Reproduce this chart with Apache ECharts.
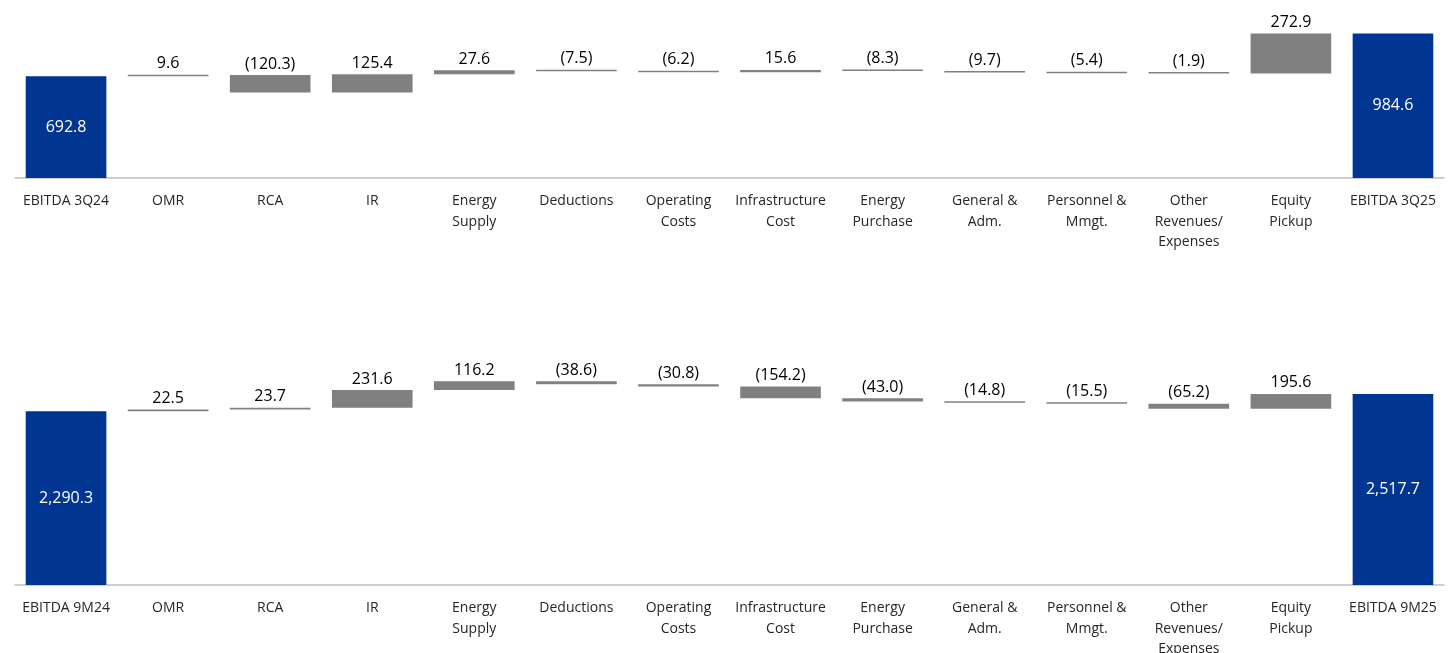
<!DOCTYPE html>
<html>
<head>
<meta charset="utf-8">
<title>EBITDA bridge</title>
<script src="https://cdn.jsdelivr.net/npm/echarts@6/dist/echarts.min.js"></script>
<style>
  html, body { margin: 0; padding: 0; background: #ffffff; }
  #chart { width: 1452px; height: 653px; }
</style>
</head>
<body>
<div id="chart"></div>
<script>
// Category labels (shared by both bridges, only the end columns differ)
const stepCategories = [
  'OMR', 'RCA', 'IR', 'Energy\nSupply', 'Deductions', 'Operating\nCosts',
  'Infrastructure\nCost', 'Energy\nPurchase', 'General &\nAdm.',
  'Personnel &\nMmgt.', 'Other\nRevenues/\nExpenses', 'Equity\nPickup'
];
const quarterEnds = ['EBITDA 3Q24', 'EBITDA 3Q25'];
const ytdEnds = ['EBITDA 9M24', 'EBITDA 9M25'];

// Quarter bridge (R$ million)
const quarterStart = 692.8;
const quarterSteps = [9.6, -120.3, 125.4, 27.6, -7.5, -6.2, 15.6, -8.3, -9.7, -5.4, -1.9, 272.9];
const quarterEnd = 984.6;

// Nine-month bridge (R$ million)
const ytdStart = 2290.3;
const ytdSteps = [22.5, 23.7, 231.6, 116.2, -38.6, -30.8, -154.2, -43.0, -14.8, -15.5, -65.2, 195.6];
const ytdEnd = 2517.7;

const BLUE = '#003591';
const GREY = '#808080';
const FONT = '"Open Sans", "Noto Sans", sans-serif';

function fmt(v) {
  const s = Math.abs(v).toLocaleString('en-US', { minimumFractionDigits: 1, maximumFractionDigits: 1 });
  return v < 0 ? '(' + s + ')' : s;
}

// Builds the invisible base and the visible bars for one bridge
function bridge(start, steps, end) {
  const base = [0];
  const bars = [{ value: start, delta: start, itemStyle: { color: BLUE }, total: true }];
  let run = start;
  steps.forEach(d => {
    const next = run + d;
    base.push(Math.min(run, next));
    bars.push({ value: Math.abs(d), delta: d, itemStyle: { color: GREY } });
    run = next;
  });
  base.push(0);
  bars.push({ value: end, delta: end, itemStyle: { color: BLUE }, total: true });
  bars.forEach(b => {
    if (b.total) {
      b.label = { position: 'inside', color: '#ffffff', fontSize: 16 };
    }
  });
  return { base, bars };
}

const q = bridge(quarterStart, quarterSteps, quarterEnd);
const y = bridge(ytdStart, ytdSteps, ytdEnd);

function xAxis(gridIndex, cats) {
  return {
    type: 'category', gridIndex, data: cats,
    axisLine: { lineStyle: { color: '#bfbfbf', width: 1.5 } },
    axisTick: { show: false },
    axisLabel: { interval: 0, color: '#262626', fontSize: 14, fontFamily: FONT, margin: 13, lineHeight: 20.5 }
  };
}
function yAxis(gridIndex, max) {
  return { type: 'value', gridIndex, min: 0, max, show: false, splitLine: { show: false } };
}
function series(idx, data) {
  return [
    {
      type: 'bar', xAxisIndex: idx, yAxisIndex: idx, stack: 's' + idx,
      data: data.base, itemStyle: { color: 'transparent' }, silent: true, barWidth: '79%'
    },
    {
      type: 'bar', xAxisIndex: idx, yAxisIndex: idx, stack: 's' + idx,
      data: data.bars, barWidth: '79%', barMinHeight: 1.5,
      label: {
        show: true, position: 'top', distance: 3, color: '#000000',
        fontSize: 16, fontFamily: FONT,
        formatter: p => fmt(p.data.delta)
      }
    }
  ];
}

const chart = echarts.init(document.getElementById('chart'), null, { renderer: 'canvas' });
chart.setOption({
  animation: false,
  backgroundColor: '#ffffff',
  textStyle: { fontFamily: FONT },
  grid: [
    { left: 15, right: 8, top: 31.3, height: 146.7, outerBoundsMode: 'none', containLabel: false },
    { left: 15, right: 8, top: 372.5, height: 212.5, outerBoundsMode: 'none', containLabel: false }
  ],
  xAxis: [
    xAxis(0, [quarterEnds[0], ...stepCategories, quarterEnds[1]]),
    xAxis(1, [ytdEnds[0], ...stepCategories, ytdEnds[1]])
  ],
  yAxis: [yAxis(0, 1000), yAxis(1, 2800)],
  series: [...series(0, q), ...series(1, y)]
});
</script>
</body>
</html>
